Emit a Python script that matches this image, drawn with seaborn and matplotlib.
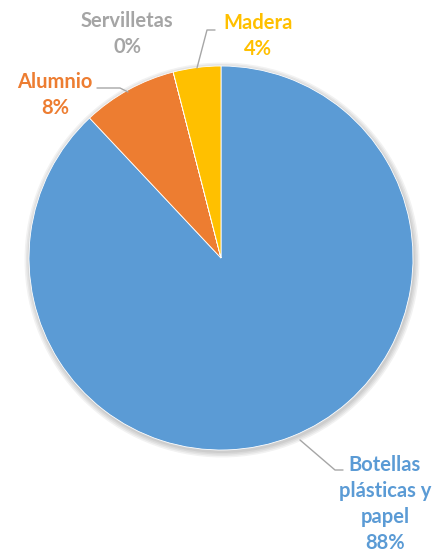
import matplotlib.pyplot as plt
import seaborn as sns

# datos
categorias = ["Botellas plásticas y papel", "Alumnio", "Servilletas", "Madera"]
porcentajes = [88, 8, 0.001, 4]
etiquetas = ["Botellas\nplásticas y\npapel\n88%", "Alumnio\n8%", "Servilletas\n0%", "Madera\n4%"]
colores = ["#5B9BD5", "#ED7D31", "#A5A5A5", "#FFC000"]

sns.set_theme(style="white")
plt.rcParams['font.family'] = ['Lato', 'DejaVu Sans']

fig = plt.figure(figsize=(4.41, 5.57), dpi=100)
ax = fig.add_axes([0, 0, 1, 1])

cx, cy, r = 221, 258, 192

# sombra suave
for i in range(4):
    ax.add_patch(plt.Circle((cx + 1, cy + 2), r + 1 + i * 1.5, color='black', alpha=0.05, lw=0, zorder=0))

# el eje y está invertido, así que counterclock=True se ve horario
wedges, _ = ax.pie(porcentajes, colors=colores, startangle=-90, counterclock=True,
                   center=(cx, cy), radius=r, frame=True,
                   wedgeprops=dict(linewidth=0.6, edgecolor='white'))
ax.set_xlim(0, 441)
ax.set_ylim(557, 0)
ax.set_aspect('equal')
ax.axis('off')

lc = "#A6A6A6"
# líneas guía
ax.plot([300, 335, 343], [440, 470, 470], color=lc, lw=1)
ax.plot([128, 120, 97], [92, 88, 88], color=lc, lw=1)
ax.plot([197, 207, 215], [68, 30, 30], color=lc, lw=1)

pos = [(385, 504), (55, 95), (127, 34), (258, 36)]
for lab, (x, y), col in zip(etiquetas, pos, colores):
    ax.text(x, y, lab, ha='center', va='center', color=col, fontsize=14.5,
            fontweight='bold', linespacing=1.38)

fig.savefig("out.png", dpi=100)
